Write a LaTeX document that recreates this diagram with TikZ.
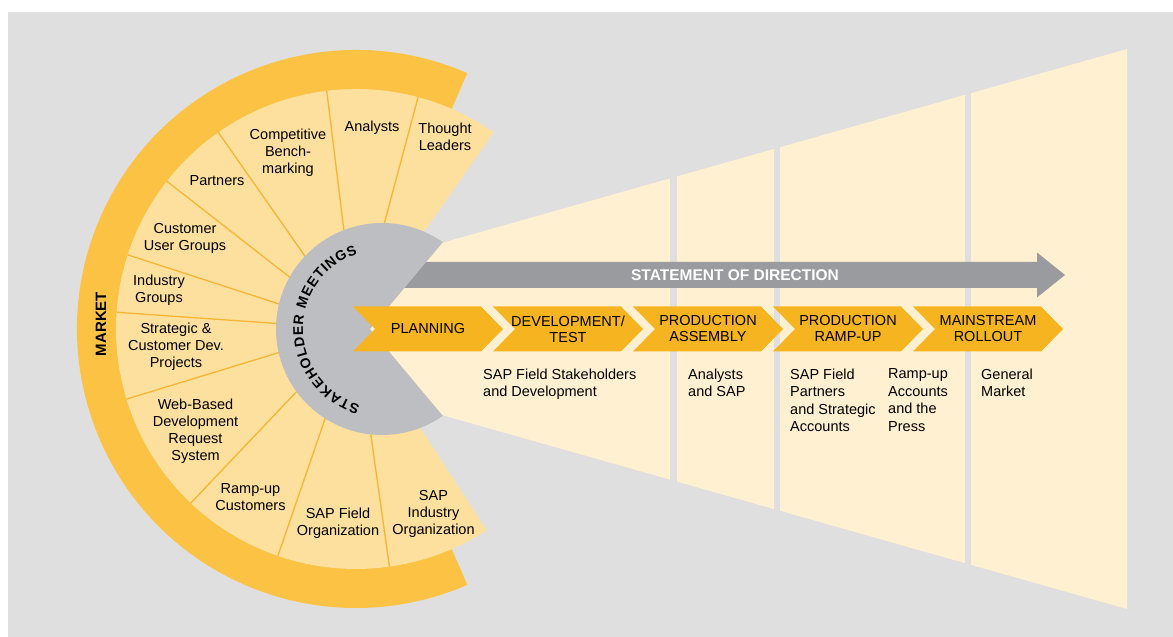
\documentclass[tikz,border=0pt]{standalone}
\usepackage{fontspec}
\setmainfont{Liberation Sans}
\usetikzlibrary{calc, decorations.text}

\definecolor{bggray}{HTML}{DFDFDF}
\definecolor{beamcream}{HTML}{FEF0D0}
\definecolor{fanlight}{HTML}{FDDF9E}
\definecolor{ringorange}{HTML}{FCC243}
\definecolor{lineorange}{HTML}{F6B632}
\definecolor{discgray}{HTML}{BDBEC1}
\definecolor{arrowgray}{HTML}{9A9B9F}
\definecolor{phaseorange}{HTML}{F7B421}

\begin{document}
\begin{tikzpicture}[
        x=1pt, y=1pt,
        segment/.style={fill=fanlight},
        divider/.style={draw=lineorange, line width=1.3pt},
        fanlabel/.style={align=center, inner sep=0pt, font=\fontsize{14.5}{17}\selectfont},
        phase/.style={fill=phaseorange},
        phasetext/.style={align=center, inner sep=0pt, font=\fontsize{14.5}{16}\selectfont},
        sublabel/.style={align=left, anchor=north west, inner sep=0pt, font=\fontsize{14.5}{17.5}\selectfont},
        boldlabel/.style={inner sep=0pt, font=\bfseries\fontsize{15}{15}\selectfont},
        gapstrip/.style={fill=bggray}
        ]
        % Canvas
        \fill[white] (0,0) rectangle (1173,637);
        \useasboundingbox (0,0) rectangle (1173,637);
        \fill[bggray] (8,0) rectangle (1173,625);

        \coordinate (fan) at (356,308);
        \coordinate (disc) at (382,308);
        \coordinate (apex) at (370,308);

        % Beam with its columns
        \fill[beamcream] (138,308) -- (1127,588) -- (1127,28) -- cycle;
        \fill[gapstrip] (670,20) rectangle (677,600);
        \fill[gapstrip] (774,20) rectangle (780,600);
        \fill[gapstrip] (965,20) rectangle (971,600);

        % Market ring and stakeholder fan
        \fill[ringorange] ($(fan)+(66.5:279)$) arc[start angle=66.5, end angle=293.5, radius=279]
            -- ($(fan)+(293.5:238)$) arc[start angle=293.5, end angle=66.5, radius=238] -- cycle;
        \fill[segment] (fan) -- ($(fan)+(55:240)$) arc[start angle=55, end angle=303, radius=240] -- cycle;
        \draw[divider] (fan) -- ++(75:240) (fan) -- ++(97:240) (fan) -- ++(125:240)
            (fan) -- ++(142:240) (fan) -- ++(162:240) (fan) -- ++(176:240)
            (fan) -- ++(197:240) (fan) -- ++(226.5:240) (fan) -- ++(251:240)
            (fan) -- ++(278:240);

        \node[boldlabel, rotate=90] (market) at (101,313) {MARKET};

        \node[fanlabel] (thought) at (445,500.5) {Thought\\Leaders};
        \node[fanlabel] (analysts) at (372,509) {Analysts};
        \node[fanlabel] (bench) at (288,484.5) {Competitive\\Bench-\\marking};
        \node[fanlabel] (partners) at (217,456) {Partners};
        \node[fanlabel] (usergroups) at (185,398.5) {Customer\\User Groups};
        \node[fanlabel] (industry) at (159,347) {Industry\\Groups};
        \node[fanlabel] (strategic) at (176,290) {Strategic \&\\Customer Dev.\\Projects};
        \node[fanlabel] (webbased) at (195.5,205.5) {Web-Based\\Development\\Request\\System};
        \node[fanlabel] (rampcust) at (250.5,140) {Ramp-up\\Customers};
        \node[fanlabel] (sapfield) at (338,114) {SAP Field\\Organization};
        \node[fanlabel] (sapindustry) at (433.5,123) {SAP\\Industry\\Organization};

        % Statement of direction
        \fill[arrowgray] (400,349) -- (1037,349) -- (1037,339.5) -- (1065,362) -- (1037,384.5)
            -- (1037,375) -- (400,375) -- cycle;
        \node[boldlabel, text=white, font=\bfseries\fontsize{15.5}{15.5}\selectfont] (direction) at (735,362) {STATEMENT OF DIRECTION};

        % Stakeholder meetings
        \fill[discgray] ($(disc)+(55:106)$) arc[start angle=55, end angle=305, radius=106] -- (apex) -- cycle;
        \path[decorate, decoration={text along path, text align=fit to path,
            text={|\bfseries\fontsize{14}{14}\selectfont|STAKEHOLDER MEETINGS}}]
            ($(disc)+(254:79)$) arc[start angle=254, end angle=108, radius=79];

        % Phases
        \fill[phase] (353,330.5) -- (481,330.5) -- (503,308) -- (481,285.5) -- (353,285.5) -- (375,308) -- cycle;
        \fill[phase] (493,330.5) -- (621,330.5) -- (643,308) -- (621,285.5) -- (493,285.5) -- (515,308) -- cycle;
        \fill[phase] (633,330.5) -- (761,330.5) -- (783,308) -- (761,285.5) -- (633,285.5) -- (655,308) -- cycle;
        \fill[phase] (773,330.5) -- (901,330.5) -- (923,308) -- (901,285.5) -- (773,285.5) -- (795,308) -- cycle;
        \fill[phase] (913,330.5) -- (1041,330.5) -- (1063,308) -- (1041,285.5) -- (913,285.5) -- (935,308) -- cycle;

        \node[phasetext] (planning) at (428,308) {PLANNING};
        \node[phasetext] (devtest) at (568,308) {DEVELOPMENT/\\TEST};
        \node[phasetext] (assembly) at (708,308) {PRODUCTION\\ASSEMBLY};
        \node[phasetext] (rampup) at (848,308) {PRODUCTION\\RAMP-UP};
        \node[phasetext] (rollout) at (988,308) {MAINSTREAM\\ROLLOUT};

        % Audiences
        \node[sublabel] (devaud) at (483,268.5) {SAP Field Stakeholders\\and Development};
        \node[sublabel] (assemblyaud) at (688,268.5) {Analysts\\and SAP};
        \node[sublabel] (partneraud) at (790,268.5) {SAP Field\\Partners\\and Strategic\\Accounts};
        \node[sublabel] (pressaud) at (888,268.5) {Ramp-up\\Accounts\\and the\\Press};
        \node[sublabel] (marketaud) at (981,268.5) {General\\Market};
\end{tikzpicture}
\end{document}
